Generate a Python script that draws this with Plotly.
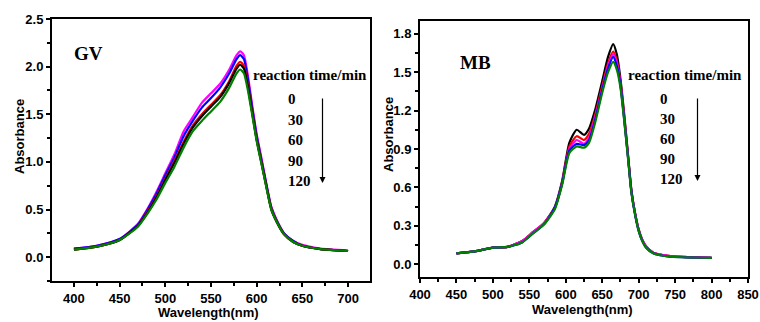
import plotly.graph_objects as go

W, H = 760, 322

# ---------------- GV panel data ----------------
gv_wl = [400, 425, 450, 470, 480, 490, 500, 510, 520, 530, 540, 550, 560, 570, 578, 582, 586, 590, 595,
         600, 605, 610, 616, 622, 630, 640, 650, 670, 700]
gv_0 = [0.09, 0.12, 0.19, 0.35, 0.50, 0.68, 0.88, 1.08, 1.32, 1.47, 1.62, 1.72, 1.82, 1.97, 2.12, 2.16, 2.12,
        1.93, 1.60, 1.29, 1.05, 0.80, 0.53, 0.39, 0.25, 0.17, 0.13, 0.09, 0.07]
gv_30 = [0.09, 0.12, 0.19, 0.34, 0.49, 0.66, 0.86, 1.05, 1.27, 1.43, 1.57, 1.67, 1.78, 1.93, 2.08, 2.12, 2.08,
         1.89, 1.57, 1.27, 1.03, 0.79, 0.52, 0.38, 0.25, 0.17, 0.12, 0.085, 0.065]
gv_60 = [0.08, 0.11, 0.18, 0.33, 0.47, 0.63, 0.82, 1.01, 1.21, 1.38, 1.50, 1.60, 1.70, 1.85, 2.01, 2.05, 2.01,
         1.83, 1.53, 1.24, 1.01, 0.77, 0.51, 0.37, 0.24, 0.16, 0.12, 0.085, 0.065]
gv_90 = [0.08, 0.11, 0.18, 0.33, 0.46, 0.62, 0.81, 0.99, 1.19, 1.36, 1.48, 1.58, 1.68, 1.83, 1.98, 2.02, 1.98,
         1.81, 1.52, 1.23, 1.00, 0.77, 0.50, 0.37, 0.24, 0.16, 0.12, 0.085, 0.065]
gv_120 = [0.08, 0.11, 0.18, 0.32, 0.45, 0.60, 0.78, 0.95, 1.15, 1.32, 1.43, 1.53, 1.63, 1.78, 1.93, 1.97, 1.93,
          1.77, 1.50, 1.22, 0.99, 0.76, 0.50, 0.37, 0.24, 0.16, 0.12, 0.085, 0.065]

# ---------------- MB panel data ----------------
mb_wl = [450, 475, 500, 520, 540, 555, 570, 585, 595, 605, 615, 625, 632, 640, 650, 658, 665, 670, 675,
         680, 685, 690, 695, 700, 705, 710, 720, 740, 800]
mb_0 = [0.085, 0.10, 0.13, 0.135, 0.18, 0.25, 0.32, 0.45, 0.65, 0.95, 1.05, 1.01, 1.06, 1.20, 1.43, 1.62, 1.72,
        1.64, 1.45, 1.18, 0.88, 0.58, 0.40, 0.27, 0.19, 0.14, 0.09, 0.065, 0.05]
mb_30 = [0.085, 0.10, 0.13, 0.135, 0.18, 0.25, 0.32, 0.44, 0.64, 0.92, 1.00, 0.97, 1.02, 1.16, 1.39, 1.57, 1.66,
         1.59, 1.42, 1.16, 0.87, 0.57, 0.40, 0.27, 0.19, 0.14, 0.09, 0.065, 0.05]
mb_60 = [0.085, 0.10, 0.13, 0.135, 0.18, 0.25, 0.32, 0.44, 0.63, 0.90, 0.97, 0.94, 0.99, 1.14, 1.37, 1.55, 1.64,
         1.57, 1.41, 1.15, 0.86, 0.57, 0.40, 0.27, 0.19, 0.14, 0.09, 0.065, 0.05]
mb_90 = [0.085, 0.10, 0.13, 0.135, 0.17, 0.24, 0.31, 0.44, 0.63, 0.89, 0.94, 0.93, 0.97, 1.12, 1.36, 1.53, 1.62,
         1.55, 1.40, 1.14, 0.86, 0.57, 0.39, 0.26, 0.18, 0.13, 0.085, 0.06, 0.05]
mb_120 = [0.085, 0.10, 0.13, 0.135, 0.17, 0.24, 0.31, 0.43, 0.62, 0.87, 0.92, 0.91, 0.95, 1.10, 1.34, 1.50, 1.58,
          1.52, 1.38, 1.13, 0.85, 0.56, 0.39, 0.26, 0.18, 0.13, 0.085, 0.06, 0.05]

time_labels = ["0", "30", "60", "90", "120"]
gv_series = [gv_0, gv_30, gv_60, gv_90, gv_120]
gv_colors = ["#ff00ff", "#0000ff", "#ff0000", "#000000", "#008000"]
mb_series = [mb_0, mb_30, mb_60, mb_90, mb_120]
mb_colors = ["#000000", "#ff0000", "#ff00ff", "#0000ff", "#008000"]

gv_xrange = [376, 724]
gv_yrange = [-0.25, 2.5]
mb_xrange = [400, 850]
mb_yrange = [-0.1, 1.9]

fig = go.Figure()
for lab, ys, c in zip(time_labels, gv_series, gv_colors):
    fig.add_trace(go.Scatter(x=gv_wl, y=ys, mode="lines", name=f"GV {lab} min",
                             line=dict(color=c, width=2.2, shape="spline", smoothing=0.6),
                             xaxis="x", yaxis="y", showlegend=False))
for lab, ys, c in zip(time_labels, mb_series, mb_colors):
    fig.add_trace(go.Scatter(x=mb_wl, y=ys, mode="lines", name=f"MB {lab} min",
                             line=dict(color=c, width=2.2, shape="spline", smoothing=0.6),
                             xaxis="x2", yaxis="y2", showlegend=False))

def px(x):
    return x / W

def py(y):
    return 1 - y / H

tickfont = dict(family="Liberation Sans", size=13, color="black", weight="bold")
axcommon = dict(showline=True, linecolor="#000000", linewidth=2, mirror=True, ticks="outside",
                ticklen=4, tickwidth=1.5, tickcolor="black", showgrid=False, zeroline=False,
                tickfont=tickfont, automargin=False)

fig.update_layout(
    width=W, height=H, margin=dict(l=0, r=0, t=0, b=0, autoexpand=False),
    paper_bgcolor="white", plot_bgcolor="white",
    xaxis=dict(domain=[px(52), px(370)], range=gv_xrange, dtick=50, tick0=400, anchor="y",
               minor=dict(ticks="outside", dtick=25, ticklen=3, tickcolor="black"), **axcommon),
    yaxis=dict(domain=[py(281), py(19)], range=gv_yrange, dtick=0.5, tickformat=".1f", anchor="x",
               minor=dict(ticks="outside", dtick=0.25, ticklen=3, tickcolor="black"), **axcommon),
    xaxis2=dict(domain=[px(420), px(748)], range=mb_xrange, dtick=50, tick0=400, anchor="y2",
                minor=dict(ticks="outside", dtick=25, ticklen=3, tickcolor="black"), **axcommon),
    yaxis2=dict(domain=[py(277), py(21)], range=mb_yrange, dtick=0.3, tickformat=".1f", anchor="x2",
                minor=dict(ticks="outside", dtick=0.15, ticklen=3, tickcolor="black"), **axcommon),
)

serif = "Liberation Serif"
sans = "Liberation Sans"
ann = []

def text(x, y, s, size, family, xanchor="center", angle=0):
    ann.append(dict(x=px(x), y=py(y), xref="paper", yref="paper", text=s, showarrow=False,
                    xanchor=xanchor, yanchor="middle", textangle=angle,
                    font=dict(family=family, size=size, color="black", weight="bold")))

# axis titles
text(19, 137, "Absorbance", 13, sans, angle=-90)
text(208, 312, "Wavelength(nm)", 13, sans)
text(388, 135, "Absorbance", 13, sans, angle=-90)
text(582, 309, "Wavelength(nm)", 13, sans)

# panel labels
text(88, 53, "GV", 19, serif)
text(475, 63, "MB", 19, serif)
text(310, 75, "reaction time/min", 15, serif)
text(685, 75, "reaction time/min", 15, serif)

gv_num_y = [99, 120, 140, 161, 181]
mb_num_y = [99, 119, 139, 159, 179]
for lab, y in zip(time_labels, gv_num_y):
    text(286, y, lab, 15, serif, xanchor="left")
for lab, y in zip(time_labels, mb_num_y):
    text(658, y, lab, 15, serif, xanchor="left")

# arrows
for x, y0, y1 in [(322.5, 97, 183), (697.5, 97, 181)]:
    ann.append(dict(x=px(x), y=py(y1), xref="paper", yref="paper", ax=0, ay=-(y1 - y0),
                    axref="pixel", ayref="pixel", text="", showarrow=True,
                    arrowhead=2, arrowsize=1, arrowwidth=1.2, arrowcolor="black"))

fig.update_layout(annotations=ann)
fig.write_html("out.html", config={"displayModeBar": False},
               post_script="document.body.style.margin='0';document.body.style.overflow='hidden';")
